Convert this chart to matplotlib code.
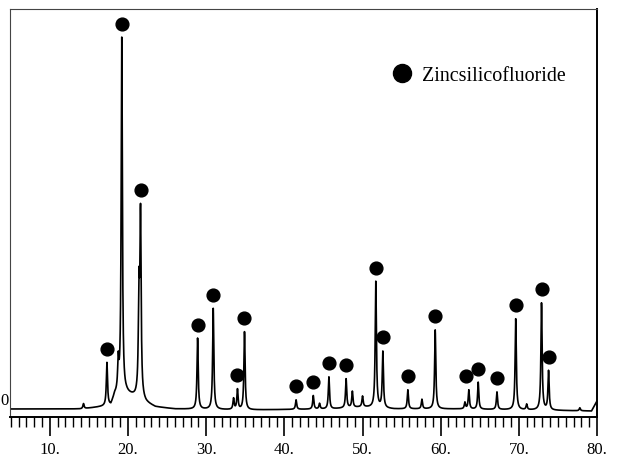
import numpy as np
import matplotlib.pyplot as plt
from matplotlib.lines import Line2D
from matplotlib.ticker import MultipleLocator, FuncFormatter
from matplotlib.transforms import ScaledTranslation

plt.rcParams['font.family'] = ['Liberation Serif', 'DejaVu Serif']

# reflections: 2-theta (deg) and height above background (counts)
peak_pos = [14.3, 17.3, 18.75, 19.2, 21.4, 21.6, 28.9, 30.9, 33.5, 34.0, 34.9,
            41.5, 43.7, 44.5, 45.7, 47.9, 48.7, 50.0, 51.7, 52.6, 55.8, 57.6,
            59.3, 63.1, 63.6, 64.8, 67.2, 69.6, 71.0, 72.9, 73.8, 77.8]
peak_height = [50, 430, 300, 3560, 1000, 1780, 710, 1010, 110, 200, 780,
               95, 135, 55, 320, 290, 160, 105, 1260, 560, 190, 95,
               790, 65, 190, 270, 175, 910, 55, 1070, 390, 30]

# background level read at a few 2-theta values (counts)
bg_pos = [5, 14, 17.8, 18.3, 19.8, 20.9, 21.3, 22.3, 23.5, 26, 35, 46, 50, 54, 62, 79.3, 80]
bg_level = [0, 0, 30, 130, 150, 120, 120, 60, 20, 0, -10, 0, 20, 0, 0, -20, 80]

# peaks marked as zinc silicofluoride
mark_pos = [17.3, 19.2, 21.6, 28.9, 30.9, 33.9, 34.9, 41.5, 43.7, 45.7, 47.9,
            51.7, 52.6, 55.8, 59.3, 63.3, 64.8, 67.2, 69.6, 72.9, 73.8]

two_theta = np.arange(4.9, 80.0, 0.02)
hw = 0.09
intensity = np.interp(two_theta, bg_pos, bg_level)
for p, h in zip(peak_pos, peak_height):
    intensity += h * hw**2 / ((two_theta - p)**2 + hw**2)

fig = plt.figure(figsize=(6.2, 4.6), dpi=100)
ax = fig.add_axes([10 / 620, 1 - 418 / 460, 587 / 620, 408 / 460])

ax.plot(two_theta, intensity, color='black', lw=1.2)

mark_y = []
for m in mark_pos:
    sel = np.abs(two_theta - m) < 0.35
    mark_y.append(intensity[sel].max() + 135)
ax.plot(mark_pos, mark_y, 'o', color='black', markersize=9.2, ls='')

ax.set_xlim(4.9, 80)
ax.set_ylim(-80, 4000)

ax.xaxis.set_major_locator(MultipleLocator(10))
ax.xaxis.set_minor_locator(MultipleLocator(1))
ax.xaxis.set_major_formatter(FuncFormatter(lambda v, pos: '%d.' % v))
ax.tick_params(axis='x', which='major', length=14, width=1.2, direction='out',
               labelsize=12, pad=3)
ax.tick_params(axis='x', which='minor', length=7, width=1.0, direction='out')

ax.set_yticks([0])
ax.set_yticklabels(['0'])
ax.tick_params(axis='y', length=0, labelsize=12, pad=1)
for lbl in ax.get_yticklabels():
    lbl.set_transform(lbl.get_transform() + ScaledTranslation(0, 8 / 72, fig.dpi_scale_trans))

ax.spines['top'].set_color('#444444')
ax.spines['left'].set_color('#444444')
ax.spines['right'].set_linewidth(1.4)
ax.spines['bottom'].set_linewidth(1.4)

handle = Line2D([], [], marker='o', ls='', color='black', markersize=13,
                label='Zincsilicofluoride')
ax.legend(handles=[handle], loc='center left', bbox_to_anchor=(0.651, 0.838),
          frameon=False, fontsize=14.4, handlelength=1.0, handletextpad=0.5,
          borderpad=0, borderaxespad=0)

fig.savefig('out.png', dpi=100)
